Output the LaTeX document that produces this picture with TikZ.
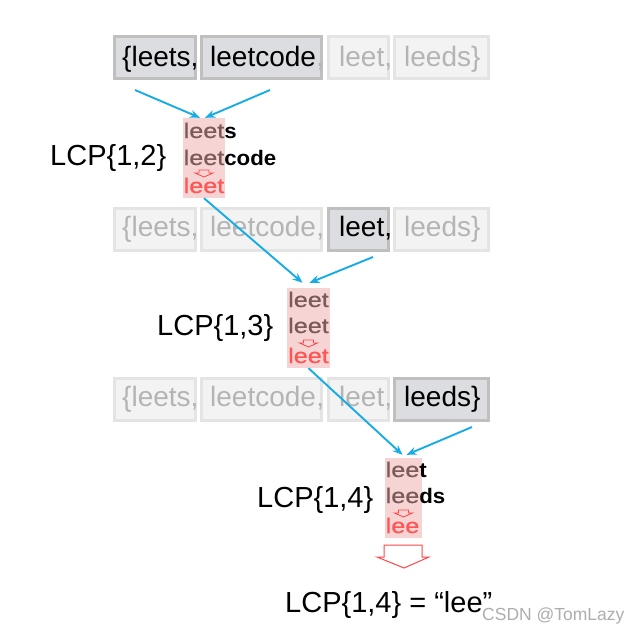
\documentclass[tikz,border=0pt]{standalone}
\usepackage{fontspec}
\setmainfont{Liberation Sans}
\newfontface\medface[FakeBold=0.6]{Liberation Sans}
\usetikzlibrary{arrows.meta,calc}
\definecolor{actfill}{HTML}{DCDDE0}
\definecolor{actline}{HTML}{BFBFBF}
\definecolor{offfill}{HTML}{F3F3F3}
\definecolor{offline}{HTML}{E4E4E4}
\definecolor{offtext}{HTML}{B4B4B4}
\definecolor{pinkbg}{HTML}{F7D4D4}
\definecolor{browntext}{HTML}{7A5A5A}
\definecolor{redtext}{HTML}{FF5555}
\definecolor{redline}{HTML}{FF4545}
\definecolor{bluearr}{HTML}{17ACE6}
\definecolor{wmark}{HTML}{ADADAD}
\newcommand\rowfont{\fontsize{28}{32}\selectfont}
\newcommand\labfont{\fontsize{29}{33}\selectfont}
\newcommand\blkfont{\medface\fontsize{21}{24}\selectfont}
\newcommand\wideword[1]{\scalebox{1.2}[1]{#1}}
\newcommand\blkbold[1]{\scalebox{1.06}[1]{\normalfont\fontsize{21}{24}\selectfont\bfseries #1}}
\begin{document}
\begin{tikzpicture}[x=1pt,y=-1pt,
  actbox/.style={fill=actfill,draw=actline,line width=2.5pt,inner sep=0pt},
  offbox/.style={fill=offfill,draw=offline,line width=2.5pt,inner sep=0pt},
  word/.style={anchor=base west,inner sep=0pt,font=\rowfont},
  lab/.style={anchor=base west,inner sep=0pt,font=\labfont},
  blk/.style={anchor=base west,inner sep=0pt,font=\blkfont},
  pinkbox/.style={fill=pinkbg,draw=none,inner sep=0pt},
  conn/.style={draw=bluearr,line width=1.9pt,-{Stealth[length=10pt,width=8pt]}},
  hollow/.style={draw=redline,line width=0.8pt,line join=miter}]
\useasboundingbox (0,0) rectangle (643,635);

% ---------- row bars ----------
% row 1 (y 35-80)
\node[actbox,minimum width=81pt,minimum height=42pt] (r1a) at (155,57.5) {};
\node[actbox,minimum width=120pt,minimum height=42pt] (r1b) at (261.5,57.5) {};
\node[offbox,minimum width=60pt,minimum height=42pt] (r1c) at (358.5,57.5) {};
\node[offbox,minimum width=94pt,minimum height=42pt] (r1d) at (441.5,57.5) {};
\node[word] (t1a) at (122,66) {\{leets,};
\node[word] (t1b) at (210,66) {leetcode};
\node[word,text=offtext] (t1bc) at (t1b.base east) {,};
\node[word,text=offtext] (t1c) at (339,66) {leet,};
\node[word,text=offtext] (t1d) at (404,66) {leeds\}};

% row 2 (y 207-252)
\node[offbox,minimum width=81pt,minimum height=42pt] (r2a) at (155,229.5) {};
\node[offbox,minimum width=120pt,minimum height=42pt] (r2b) at (261.5,229.5) {};
\node[actbox,minimum width=60pt,minimum height=42pt] (r2c) at (358.5,229.5) {};
\node[offbox,minimum width=94pt,minimum height=42pt] (r2d) at (441.5,229.5) {};
\node[word,text=offtext] (t2a) at (122,236) {\{leets,};
\node[word,text=offtext] (t2b) at (210,236) {leetcode};
\node[word,text=offtext] (t2bc) at (t2b.base east) {,};
\node[word] (t2c) at (339,236) {leet,};
\node[word,text=offtext] (t2d) at (404,236) {leeds\}};

% row 3 (y 377-422)
\node[offbox,minimum width=81pt,minimum height=42pt] (r3a) at (155,399.5) {};
\node[offbox,minimum width=120pt,minimum height=42pt] (r3b) at (261.5,399.5) {};
\node[offbox,minimum width=60pt,minimum height=42pt] (r3c) at (358.5,399.5) {};
\node[actbox,minimum width=94pt,minimum height=42pt] (r3d) at (441.5,399.5) {};
\node[word,text=offtext] (t3a) at (122,406) {\{leets,};
\node[word,text=offtext] (t3b) at (210,406) {leetcode};
\node[word,text=offtext] (t3bc) at (t3b.base east) {,};
\node[word,text=offtext] (t3c) at (339,406) {leet,};
\node[word] (t3d) at (404,406) {leeds\}};

% ---------- pink blocks ----------
\node[pinkbox,minimum width=42pt,minimum height=80pt] (b1) at (204,158) {};
\node[blk] (b1l1) at (183.5,138) {\wideword{\textcolor{browntext}{leet}}\blkbold{s}};
\node[blk] (b1l2) at (183.5,165) {\wideword{\textcolor{browntext}{leet}}\blkbold{code}};
\node[blk,text=redtext] (b1l3) at (183.5,193) {\wideword{leet}};
\draw[hollow] (199,170) -- (209,170) -- (209,173) -- (213,173) -- (204,177) -- (195,173) -- (199,173) -- cycle;
\node[lab] (lab12) at (50,165) {LCP\{1,2\}};

\node[pinkbox,minimum width=43pt,minimum height=80pt] (b2) at (308.5,328) {};
\node[blk] (b2l1) at (288,307) {\wideword{\textcolor{browntext}{leet}}};
\node[blk] (b2l2) at (288,333) {\wideword{\textcolor{browntext}{leet}}};
\node[blk,text=redtext] (b2l3) at (288,363) {\wideword{leet}};
\draw[hollow] (303.5,340) -- (313.5,340) -- (313.5,343) -- (317.5,343) -- (308.5,347) -- (299.5,343) -- (303.5,343) -- cycle;
\node[lab] (lab13) at (157,335) {LCP\{1,3\}};

\node[pinkbox,minimum width=37pt,minimum height=80pt] (b3) at (403.5,498) {};
\node[blk] (b3l1) at (385.5,477) {\wideword{\textcolor{browntext}{lee}}\blkbold{t}};
\node[blk] (b3l2) at (385.5,503) {\wideword{\textcolor{browntext}{lee}}\blkbold{ds}};
\node[blk,text=redtext] (b3l3) at (385.5,533) {\wideword{lee}};
\draw[hollow] (398.5,510) -- (408.5,510) -- (408.5,513) -- (412.5,513) -- (403.5,517) -- (394.5,513) -- (398.5,513) -- cycle;
\node[lab] (lab14) at (257,507) {LCP\{1,4\}};

% ---------- big hollow arrow and result ----------
\draw[hollow,line width=1pt] (384,545) -- (422,545) -- (422,557) -- (429,557) -- (404,568) -- (377,557) -- (384,557) -- cycle;
\node[lab] (res) at (285,612) {LCP\{1,4\} = “lee”};
\node[anchor=base west,inner sep=0pt,text=wmark,font=\fontsize{17.5}{20}\selectfont] (wm) at (482,620) {CSDN @TomLazy};

% ---------- connectors ----------
\coordinate (s1l) at (135,90);
\coordinate (s1r) at (270,90);
\coordinate (s2r) at (373,257);
\coordinate (s3r) at (472,427);
\draw[conn] (s1l) -- ($(b1.north)+(-4,0)$);
\draw[conn] (s1r) -- ($(b1.north)+(1,0)$);
\draw[conn] (b1.south) -- ($(b2.north)+(-6,-5)$);
\draw[conn] (s2r) -- ($(b2.north)+(1,-5)$);
\draw[conn] (b2.south) -- ($(b3.north)+(-1,-3)$);
\draw[conn] (s3r) -- ($(b3.north)+(3,-3)$);
\end{tikzpicture}
\end{document}
